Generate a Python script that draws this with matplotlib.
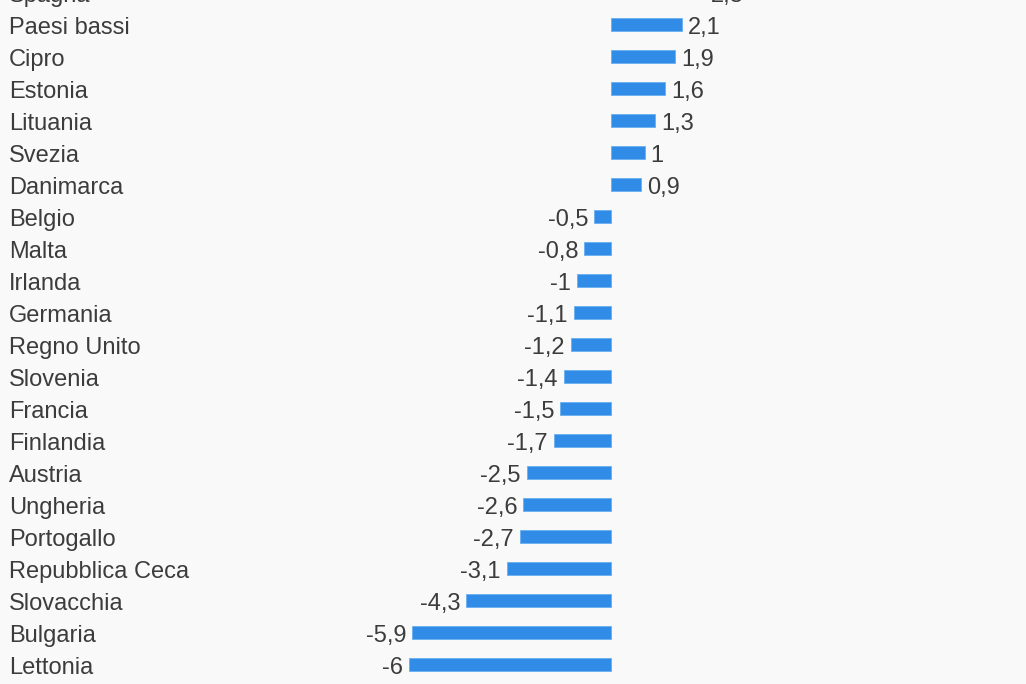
import matplotlib
matplotlib.use('Agg')
import matplotlib.pyplot as plt
import matplotlib.transforms as mtransforms

# data (top row "Spagna" is cut off at the top of the picture)
countries = ['Spagna', 'Paesi bassi', 'Cipro', 'Estonia', 'Lituania', 'Svezia',
             'Danimarca', 'Belgio', 'Malta', 'Irlanda', 'Germania', 'Regno Unito',
             'Slovenia', 'Francia', 'Finlandia', 'Austria', 'Ungheria', 'Portogallo',
             'Repubblica Ceca', 'Slovacchia', 'Bulgaria', 'Lettonia']
values = [2.8, 2.1, 1.9, 1.6, 1.3, 1, 0.9, -0.5, -0.8, -1, -1.1, -1.2,
          -1.4, -1.5, -1.7, -2.5, -2.6, -2.7, -3.1, -4.3, -5.9, -6]

bg = '#f9f9f9'
bar_color = '#318ce7'
text_color = '#3c3c3c'

W, H = 1026, 684
fig = plt.figure(figsize=(W / 100, H / 100), dpi=100, facecolor=bg)
ax = fig.add_axes([0, 0, 1, 1])
ax.set_facecolor(bg)

# pixel geometry
zero_px = 611
px_per_unit = 33.7
row_px = 32
first_row_px = -7.5

ax.set_xlim(-zero_px / px_per_unit, (W - zero_px) / px_per_unit)
ax.set_ylim((H - first_row_px) / row_px, -first_row_px / row_px)

ypos = list(range(len(countries)))
ax.barh(ypos, values, height=13 / row_px, color=bar_color,
        edgecolor='#6aaef0', linewidth=0.6)

base_off = 9.5 / row_px  # text baseline below the bar centre
blend = mtransforms.blended_transform_factory(fig.transFigure, ax.transData)
for y, name, v in zip(ypos, countries, values):
    ax.text(9 / W, y + base_off, name, transform=blend, ha='left', va='baseline',
            fontsize=17, color=text_color, family='Liberation Sans')
    lab = ('%g' % v).replace('.', ',')
    off = 6 / px_per_unit
    if v >= 0:
        ax.text(v + off, y + base_off, lab, ha='left', va='baseline', fontsize=17,
                color=text_color, family='Liberation Sans')
    else:
        ax.text(v - off, y + base_off, lab, ha='right', va='baseline', fontsize=17,
                color=text_color, family='Liberation Sans')

ax.axis('off')
fig.savefig('out.png', dpi=100, facecolor=bg)
